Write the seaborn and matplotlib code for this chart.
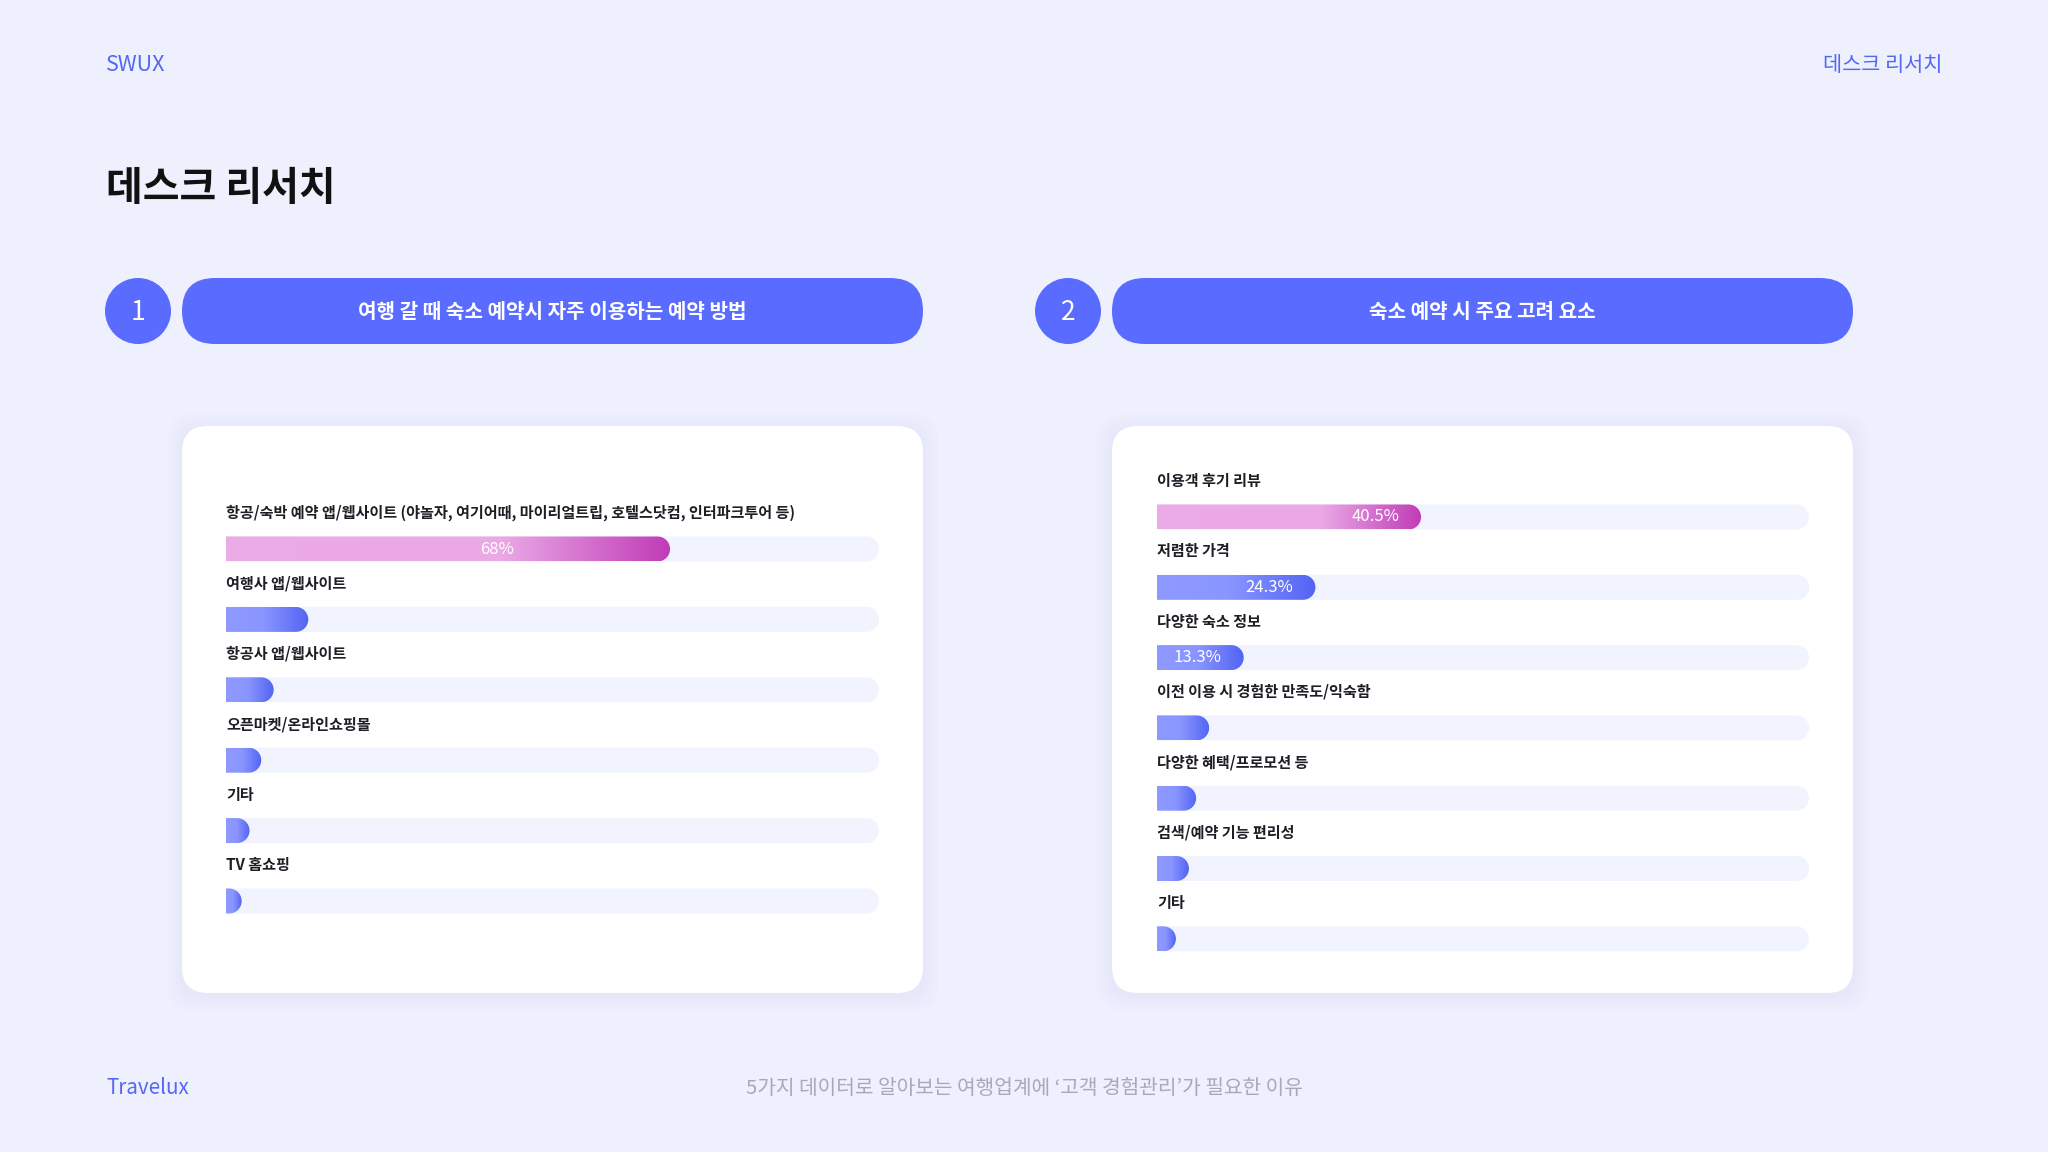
import numpy as np
import matplotlib
matplotlib.use("Agg")
import matplotlib.pyplot as plt
import seaborn as sns
from matplotlib.patches import FancyBboxPatch, Circle, PathPatch
from matplotlib.path import Path
from matplotlib.colors import LinearSegmentedColormap

# data
methods = ["항공/숙박 예약 앱/웹사이트 (야놀자, 여기어때, 마이리얼트립, 호텔스닷컴, 인터파크투어 등)",
           "여행사 앱/웹사이트", "항공사 앱/웹사이트", "오픈마켓/온라인쇼핑몰", "기타", "TV 홈쇼핑"]
method_pct = [68, 12.6, 7.3, 5.4, 3.6, 2.4]
method_shown = 1

factors = ["이용객 후기 리뷰", "저렴한 가격", "다양한 숙소 정보", "이전 이용 시 경험한 만족도/익숙함",
           "다양한 혜택/프로모션 등", "검색/예약 기능 편리성", "기타"]
factor_pct = [40.5, 24.3, 13.3, 8.0, 6.0, 4.9, 2.9]
factor_shown = 3

titles = ["여행 갈 때 숙소 예약시 자주 이용하는 예약 방법", "숙소 예약 시 주요 고려 요소"]

W, H = 2048, 1152
BG = "#EEF0FE"
BLUE = "#5A6CFF"
TEXTBLUE = "#5468F2"
TRACK = "#F1F4FE"
pink_cm = LinearSegmentedColormap.from_list("pink", [(0, "#ECACE7"), (0.62, "#EAA8E5"), (1, "#C03CB7")])
blue_cm = LinearSegmentedColormap.from_list("blue", [(0, "#8E9AFF"), (0.45, "#8A96FF"), (1, "#5264F4")])

sns.set_style("white")
plt.rcParams["font.family"] = ["Noto Sans CJK KR", "DejaVu Sans"]

fig = plt.figure(figsize=(20.48, 11.52), dpi=100, facecolor=BG)
bg = fig.add_axes([0, 0, 1, 1])
bg.set_xlim(0, W)
bg.set_ylim(H, 0)
bg.axis("off")


def capsule(x0, x1, yc, rx, ry):
    # flat left end, round right end
    arc = Path.arc(-90, 90)
    cx = x1 - rx
    verts = arc.vertices * [rx, ry] + [cx, yc]
    start = min(x0, cx)
    verts = np.vstack([[start, yc - ry], verts, [start, yc + ry], [start, yc - ry]])
    codes = [Path.MOVETO, Path.LINETO] + list(arc.codes[1:]) + [Path.LINETO, Path.CLOSEPOLY]
    return Path(verts, codes)


def bar_chart(x0, x1, first, step, cats, vals, shown, centered):
    n = len(cats)
    top = first - step
    bottom = first + step * (n - 0.5)
    ax = fig.add_axes([x0 / W, 1 - bottom / H, (x1 - x0) / W, (bottom - top) / H])
    ax.patch.set_alpha(0)
    bw = 25 / step
    sns.barplot(x=[100] * n, y=cats, orient="h", color=TRACK, width=bw, errorbar=None, ax=ax)
    k = len(ax.patches)
    sns.barplot(x=vals, y=cats, orient="h", color=BLUE, width=bw, errorbar=None, ax=ax)
    rects = list(ax.patches)
    px = (x1 - x0) / 100
    for j, r in enumerate(rects):
        r.set_visible(False)
        h = r.get_height()
        yc = r.get_y() + h / 2
        ry = h / 2
        rx = ry * step / px
        w = r.get_width()
        path = capsule(0, w, yc, rx, ry)
        if j < k:
            ax.add_patch(PathPatch(path, fc=TRACK, ec="none", zorder=1))
            ax.text(0, yc - 36 / step, cats[j], ha="left", va="center", fontsize=10.9,
                    color="#1E1E26", weight="bold")
        else:
            i = j - k
            clip = PathPatch(path, fc="none", ec="none")
            ax.add_patch(clip)
            grad = np.linspace(0, 1, 256)[None, :]
            im = ax.imshow(grad, cmap=pink_cm if i == 0 else blue_cm, extent=(0, w, yc + ry, yc - ry),
                           aspect="auto", interpolation="bicubic", zorder=2)
            im.set_clip_path(clip)
            if i < shown:
                v = vals[i]
                if centered:
                    ax.text(0.61 * v, yc, f"{v:g}%", ha="center", va="center", fontsize=12,
                            color="white", zorder=3)
                else:
                    ax.text(v - 22 / px, yc, f"{v:g}%", ha="right", va="center", fontsize=12,
                            color="white", zorder=3)
    ax.set_xlim(0, 100)
    ax.set_ylim(n - 0.5, -1)
    ax.axis("off")
    return ax


# header
bg.text(106, 65, "SWUX", ha="left", va="center", fontsize=15.5, color=TEXTBLUE)
bg.text(1942, 65, "데스크 리서치", ha="right", va="center", fontsize=15, color=TEXTBLUE)
bg.text(106, 188, "데스크 리서치", ha="left", va="center", fontsize=28.8, weight="bold", color="#111111")

# section headers and cards
for s, left in enumerate([182, 1112]):
    bg.add_patch(Circle((left - 44, 311), 33, fc=BLUE, ec="none"))
    bg.text(left - 44, 312, str(s + 1), ha="center", va="center", fontsize=19, color="white", weight="light")
    bg.add_patch(FancyBboxPatch((left, 278), 741, 66, boxstyle="round,pad=0,rounding_size=33",
                                fc=BLUE, ec="none"))
    bg.text(left + 370, 311, titles[s], ha="center", va="center", fontsize=14.5, weight="bold", color="white")
    for g in range(4):
        e = 3 + g * 4
        bg.add_patch(FancyBboxPatch((left + 26 - e, 426 + 26 - e + 3), 741 - 52 + 2 * e, 567 - 52 + 2 * e,
                                    boxstyle="round,pad=26", fc="#C9CEF5", ec="none", alpha=0.05))
    bg.add_patch(FancyBboxPatch((left + 26, 426 + 26), 741 - 52, 567 - 52, boxstyle="round,pad=26",
                                fc="white", ec="none"))

bar_chart(226, 879, 549, 70.4, methods, method_pct, method_shown, True)
bar_chart(1157, 1809, 517, 70.3, factors, factor_pct, factor_shown, False)

# footer
bg.text(106, 1088, "Travelux", ha="left", va="center", fontsize=14.8, color=TEXTBLUE)
bg.text(1024, 1088, "5가지 데이터로 알아보는 여행업계에 ‘고객 경험관리’가 필요한 이유", ha="center", va="center",
        fontsize=14.6, color="#A9A9B6")

fig.savefig("out.png", dpi=100, facecolor=BG)
